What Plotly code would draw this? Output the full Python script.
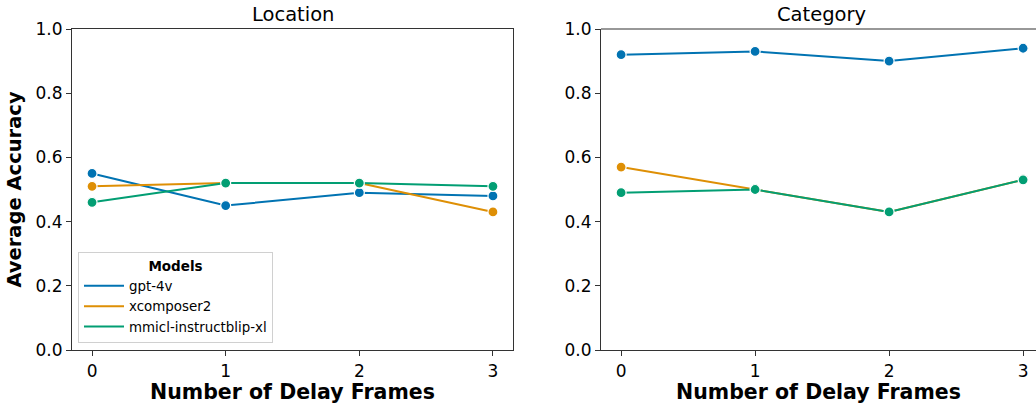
import plotly.graph_objects as go

frames = [0, 1, 2, 3]
models = ["gpt-4v", "xcomposer2", "mmicl-instructblip-xl"]
colors = ["#0173B2", "#DE8F05", "#029E73"]

location_gpt4v = [0.55, 0.45, 0.49, 0.48]
location_xcomposer2 = [0.51, 0.52, 0.52, 0.43]
location_mmicl = [0.46, 0.52, 0.52, 0.51]

category_gpt4v = [0.92, 0.93, 0.90, 0.94]
category_xcomposer2 = [0.57, 0.50, 0.43, 0.53]
category_mmicl = [0.49, 0.50, 0.43, 0.53]

location = [location_gpt4v, location_xcomposer2, location_mmicl]
category = [category_gpt4v, category_xcomposer2, category_mmicl]

yticks = [0.0, 0.2, 0.4, 0.6, 0.8, 1.0]
ytick_text = ["0.0", "0.2", "0.4", "0.6", "0.8", "1.0"]

FONT = "DejaVu Sans"
fig = go.Figure()

for vals, xa, ya in [(location, "x", "y"), (category, "x2", "y2")]:
    for name, c, v in zip(models, colors, vals):
        fig.add_trace(go.Scatter(
            x=frames, y=v, mode="lines+markers", name=name, showlegend=False,
            xaxis=xa, yaxis=ya, cliponaxis=False,
            line=dict(color=c, width=2),
            marker=dict(size=10, color=c, line=dict(color="white", width=1.2)),
        ))

for name, c in zip(models, colors):
    fig.add_trace(go.Scatter(x=[None], y=[None], mode="lines", name=name,
                             line=dict(color=c, width=2), xaxis="x", yaxis="y"))

W, H = 1036, 407
l, t = 72, 29
b = H - 350
r = 0
pw = W - l - r
ph = H - t - b
left_end = 513
right_start = 601
d1 = [0, (left_end - l) / pw]
d2 = [(right_start - l) / pw, 1.0]
unit = 134.0

axis_common = dict(
    showgrid=False, zeroline=False, showline=True, linecolor="#333333", linewidth=1.2,
    ticks="outside", ticklen=5, tickwidth=1.2, tickcolor="#333333",
    tickfont=dict(family=FONT, size=17, color="black"),
)
xtitle = dict(text="<b>Number of Delay Frames</b>", font=dict(family=FONT, size=20.5), standoff=4)

fig.update_layout(
    width=W, height=H,
    margin=dict(l=l, r=r, t=t, b=b, autoexpand=False),
    plot_bgcolor="white", paper_bgcolor="white",
    font=dict(family=FONT, color="black"),
    xaxis=dict(domain=d1, range=[-0.15, 3.15], tickvals=frames, mirror=True, anchor="y",
               title=xtitle, **axis_common),
    yaxis=dict(domain=[0, 1], range=[0, 1], tickvals=yticks, ticktext=ytick_text, mirror=True, anchor="x",
               title=dict(text="<b>Average Accuracy</b>", font=dict(family=FONT, size=19.5), standoff=8),
               **axis_common),
    xaxis2=dict(domain=d2, range=[-0.15, -0.15 + (W - right_start) / unit], tickvals=frames, anchor="y2",
                mirror=False, title=xtitle, **axis_common),
    yaxis2=dict(domain=[0, 1], range=[0, 1], tickvals=yticks, ticktext=ytick_text, anchor="x2",
                mirror=False, **axis_common),
    legend=dict(
        x=6 / pw, y=7 / ph, xref="paper", yref="paper",
        xanchor="left", yanchor="bottom",
        bgcolor="rgba(255,255,255,0.8)", bordercolor="#d0d0d0", borderwidth=1,
        font=dict(family=FONT, size=13.4),
        title=dict(text="<b>Models</b>", side="top center", font=dict(family=FONT, size=13.5)),
        itemwidth=40,
    ),
    showlegend=True,
    annotations=[
        dict(text="Location", x=(d1[0] + d1[1]) / 2, y=1.0, xref="paper", yref="paper",
             xanchor="center", yanchor="bottom", yshift=1, showarrow=False,
             font=dict(family=FONT, size=19.5)),
        dict(text="Category", x=((601 + 1042) / 2 - l) / pw, y=1.0, xref="paper", yref="paper",
             xanchor="center", yanchor="bottom", yshift=1, showarrow=False,
             font=dict(family=FONT, size=19.5)),
    ],
    shapes=[
        dict(type="line", xref="paper", yref="paper", x0=d2[0], x1=1, y0=1, y1=1,
             line=dict(color="#333333", width=1.2)),
    ],
)

fig.write_html("out.html", config={"displayModeBar": False},
               post_script="document.body.style.margin='0';")
